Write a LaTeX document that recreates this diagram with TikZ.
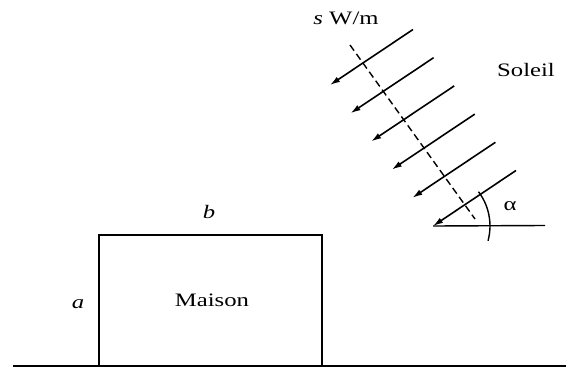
\documentclass[tikz,border=0pt]{standalone}
\usepackage{fontspec}
\setmainfont{Liberation Serif}
\usetikzlibrary{arrows.meta}
\begin{document}
\begin{tikzpicture}[x=1pt,y=-1pt,
  lbl/.style={inner sep=0pt,font=\fontsize{19}{21}\selectfont,xscale=1.3},
  wall/.style={line width=1.6pt},
  ray/.style={line width=1.6pt,-{Latex[length=10pt,width=6pt]}},
  dsh/.style={line width=1.4pt,dash pattern=on 7pt off 4pt}]
\useasboundingbox (0,0) rectangle (568,367);
% ground
\coordinate (g1) at (13,365.5);
\coordinate (g2) at (566,365.5);
\draw[line width=2pt] (g1) -- (g2);
% house
\node[wall,draw,minimum width=223pt,minimum height=131.5pt,inner sep=0pt,anchor=north west] (house) at (98,234) {};
\node[lbl] (maison) at (212,300) {Maison};
\node[lbl] (b) at (209,212) {\textit{b}};
\node[lbl] (a) at (78,304) {\textit{a}};
% rays
\foreach \k in {0,...,5}{
  \coordinate (tip\k) at ({330+20.6*\k},{85+28.2*\k});
  \coordinate (tail\k) at ({413+20.6*\k},{29.5+28.2*\k});
  \draw[ray] (tail\k) -- (tip\k);
}
% dashed normal
\coordinate (d1) at (350,45);
\coordinate (d2) at (475,219);
\draw[dsh] (d1) -- (d2);
% horizontal & angle
\coordinate (h2) at (545,225.5);
\draw[line width=1.4pt] (tip5) -- (h2);
\draw[line width=1.4pt] ([shift={(45.5,-34.3)}]tip5) arc[start angle=37,end angle=-15,radius=57pt];
\node[lbl] (alpha) at (510,206) {α};
\node[lbl] (s) at (346,18) {\textit{s} W/m};
\node[lbl] (soleil) at (526,70) {Soleil};
\end{tikzpicture}
\end{document}
